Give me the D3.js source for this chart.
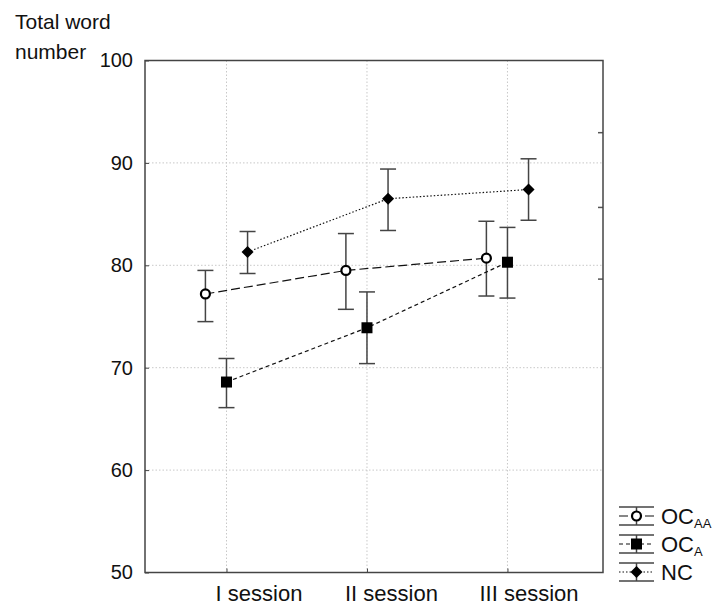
<!DOCTYPE html>
<html>
<head>
<meta charset="utf-8">
<script src="https://cdn.jsdelivr.net/npm/d3@7"></script>
<style>
  body { margin: 0; background: #fff; }
  svg { font-family: "Liberation Sans", Arial, sans-serif; }
</style>
</head>
<body>
<svg id="chart" width="714" height="605"></svg>
<script>
// data
const sessions = ["I session", "II session", "III session"];
const yTicks = [50, 60, 70, 80, 90, 100];
const rightTicks = [93, 85.7, 78.7];

const ocaaMean = [77.2, 79.5, 80.7];
const ocaaLow = [74.5, 75.7, 77.0];
const ocaaHigh = [79.5, 83.1, 84.3];

const ocaMean = [68.6, 73.9, 80.3];
const ocaLow = [66.1, 70.4, 76.8];
const ocaHigh = [70.9, 77.4, 83.7];

const ncMean = [81.3, 86.5, 87.4];
const ncLow = [79.2, 83.4, 84.4];
const ncHigh = [83.3, 89.4, 90.4];

const groups = [
    { name: "OC", sub: "AA", mean: ocaaMean, low: ocaaLow, high: ocaaHigh, offset: -0.15, dash: "9,4", marker: "circle" },
    { name: "OC", sub: "A", mean: ocaMean, low: ocaLow, high: ocaHigh, offset: 0, dash: "4,3", marker: "square" },
    { name: "NC", sub: "", mean: ncMean, low: ncLow, high: ncHigh, offset: 0.15, dash: "1.5,2", marker: "diamond" }
];

const svg = d3.select("#chart");
const plotLeft = 145, plotTop = 60.5, plotRight = 603, plotBottom = 572.5;

const x = d3.scaleLinear().domain([0.42, 3.68]).range([plotLeft, plotRight]);
const y = d3.scaleLinear().domain([50, 100]).range([plotBottom, plotTop]);

// grid
svg.append("g")
    .selectAll("line")
    .data(yTicks.filter(d => d > 50 && d < 100))
    .enter().append("line")
    .attr("x1", plotLeft).attr("x2", plotRight)
    .attr("y1", d => y(d)).attr("y2", d => y(d))
    .attr("stroke", "#c8c8c8").attr("stroke-dasharray", "1.5,2");

svg.append("g")
    .selectAll("line")
    .data(sessions)
    .enter().append("line")
    .attr("x1", (d, i) => x(i + 1)).attr("x2", (d, i) => x(i + 1))
    .attr("y1", plotTop).attr("y2", plotBottom)
    .attr("stroke", "#c8c8c8").attr("stroke-dasharray", "1.5,2");

// axes
const yAxis = svg.append("g")
    .attr("transform", `translate(${plotLeft},0)`)
    .call(d3.axisLeft(y).tickValues(yTicks).tickSize(-4).tickPadding(12));
yAxis.select(".domain").remove();
yAxis.selectAll(".tick line").attr("stroke", "#444");
yAxis.selectAll("text").attr("font-size", 20).attr("fill", "#111").attr("font-family", "Liberation Sans, Arial");

const rAxis = svg.append("g")
    .attr("transform", `translate(${plotRight},0)`)
    .call(d3.axisRight(y).tickValues(rightTicks).tickSize(-5).tickFormat(""));
rAxis.select(".domain").remove();
rAxis.selectAll(".tick line").attr("stroke", "#555").attr("stroke-width", 1.5);

const labelDx = [32, 24, 21];
const xAxis = svg.append("g")
    .attr("transform", `translate(0,${plotBottom})`)
    .call(d3.axisBottom(x).tickValues([1, 2, 3]).tickSize(-4).tickFormat((d, i) => sessions[i]));
xAxis.select(".domain").remove();
xAxis.selectAll(".tick line").attr("stroke", "#444");
xAxis.selectAll("text")
    .attr("font-size", 22).attr("fill", "#111").attr("font-family", "Liberation Sans, Arial")
    .attr("y", 28).attr("dy", 0)
    .attr("dx", (d, i) => labelDx[i]);

// frame
svg.append("rect")
    .attr("x", plotLeft).attr("y", plotTop)
    .attr("width", plotRight - plotLeft).attr("height", plotBottom - plotTop)
    .attr("fill", "none").attr("stroke", "#444").attr("stroke-width", 1.5);

// axis title
svg.append("text").attr("x", 15).attr("y", 29).attr("font-size", 21).attr("fill", "#111").text("Total word");
svg.append("text").attr("x", 15).attr("y", 59).attr("font-size", 21).attr("fill", "#111").text("number");

function drawMarker(g, type, cx, cy) {
    if (type === "circle") {
        g.append("circle").attr("cx", cx).attr("cy", cy).attr("r", 4.5)
            .attr("fill", "#fff").attr("stroke", "#000").attr("stroke-width", 2.2);
    } else if (type === "square") {
        g.append("rect").attr("x", cx - 5.5).attr("y", cy - 5.5).attr("width", 11).attr("height", 11)
            .attr("fill", "#000");
    } else {
        g.append("path").attr("d", d3.symbol(d3.symbolSquare, 72)())
            .attr("transform", `translate(${cx},${cy}) rotate(45)`).attr("fill", "#000");
    }
}

const capW = 8;
groups.forEach(gr => {
    const g = svg.append("g");
    const line = d3.line()
        .x((d, i) => x(i + 1 + gr.offset))
        .y(d => y(d));
    g.append("path")
        .attr("d", line(gr.mean))
        .attr("fill", "none").attr("stroke", "#111").attr("stroke-width", 1.2)
        .attr("stroke-dasharray", gr.dash);

    gr.mean.forEach((m, i) => {
        const cx = x(i + 1 + gr.offset);
        g.append("line").attr("x1", cx).attr("x2", cx)
            .attr("y1", y(gr.low[i])).attr("y2", y(gr.high[i]))
            .attr("stroke", "#444").attr("stroke-width", 1.5);
        [gr.low[i], gr.high[i]].forEach(v => {
            g.append("line").attr("x1", cx - capW).attr("x2", cx + capW)
                .attr("y1", y(v)).attr("y2", y(v))
                .attr("stroke", "#444").attr("stroke-width", 1.5);
        });
        drawMarker(g, gr.marker, cx, y(m));
    });
});

// legend
const legend = svg.append("g").attr("transform", "translate(619,516)");
groups.forEach((gr, i) => {
    const row = legend.append("g").attr("transform", `translate(0,${i * 28})`);
    [-9, 9].forEach(dy => {
        row.append("line").attr("x1", 0).attr("x2", 35).attr("y1", dy).attr("y2", dy)
            .attr("stroke", "#444").attr("stroke-width", 1.5);
    });
    row.append("line").attr("x1", 17.5).attr("x2", 17.5).attr("y1", -9).attr("y2", 9)
        .attr("stroke", "#444").attr("stroke-width", 1.5);
    row.append("line").attr("x1", 0).attr("x2", 35).attr("y1", 0).attr("y2", 0)
        .attr("stroke", "#111").attr("stroke-width", 1.2).attr("stroke-dasharray", gr.dash);
    drawMarker(row, gr.marker, 17.5, 0);
    const t = row.append("text").attr("x", 42).attr("y", 7.5).attr("font-size", 22).attr("fill", "#111");
    t.append("tspan").text(gr.name);
    if (gr.sub) t.append("tspan").attr("font-size", 13).attr("dy", 4).text(gr.sub);
});
</script>
</body>
</html>
